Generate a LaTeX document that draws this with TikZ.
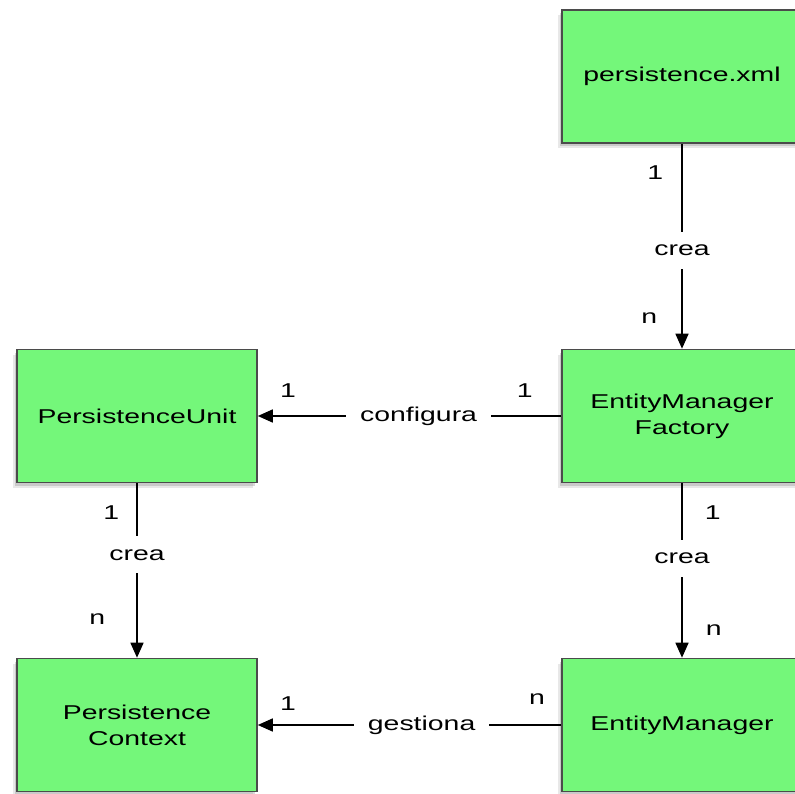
\documentclass[tikz,border=0pt]{standalone}
\usepackage{fontspec}
\setmainfont{Liberation Sans}[FakeStretch=1.42]
\usetikzlibrary{arrows.meta, shadows}

\definecolor{boxgreen}{RGB}{116,247,122}
\definecolor{boxline}{RGB}{75,75,75}

\begin{document}
\begin{tikzpicture}[
  x=1pt, y=-1pt,
  every node/.style={font=\fontsize{20}{26}\selectfont},
  entity/.style={rectangle, draw=boxline, line width=1.6pt, fill=boxgreen,
    minimum width=240pt, minimum height=133pt, align=center,
    drop shadow={shadow xshift=-4pt, shadow yshift=-5pt, opacity=0.18},
    drop shadow={shadow xshift=-2.5pt, shadow yshift=-3pt, opacity=0.3}},
  rel/.style={line width=1.6pt, -{Triangle[length=15pt,width=13pt]}},
  verb/.style={fill=white, inner xsep=14pt, inner ysep=13pt},
  mult/.style={inner sep=2pt}
]
\useasboundingbox (0,0) rectangle (795,794);

% the five boxes
\node[entity] (pxml) at (682,76.5) {persistence.xml};
\node[entity] (pu)   at (137,416)  {PersistenceUnit};
\node[entity] (emf)  at (682,416)  {EntityManager\\Factory};
\node[entity] (pc)   at (137,725)  {Persistence\\Context};
\node[entity] (em)   at (682,725)  {EntityManager};

% relations
\draw[rel] (pxml) -- (emf)
  node[verb, pos=0.52] {crea}
  node[mult, pos=0.14, left=16pt] {1}
  node[mult, pos=0.85, left=22pt] {n};
\draw[rel] (emf) -- (pu)
  node[verb, pos=0.47] {configura}
  node[mult, pos=0.12, above=16pt] {1}
  node[mult, pos=0.9, above=16pt] {1};
\draw[rel] (pu) -- (pc)
  node[verb, pos=0.41] {crea}
  node[mult, pos=0.17, left=15pt] {1}
  node[mult, pos=0.78, left=29pt] {n};
\draw[rel] (emf) -- (em)
  node[verb, pos=0.43] {crea}
  node[mult, pos=0.17, right=20pt] {1}
  node[mult, pos=0.84, right=21pt] {n};
\draw[rel] (em) -- (pc)
  node[verb, pos=0.46] {gestiona}
  node[mult, pos=0.08, above=18pt] {n}
  node[mult, pos=0.9, above=12pt] {1};
\end{tikzpicture}
\end{document}
